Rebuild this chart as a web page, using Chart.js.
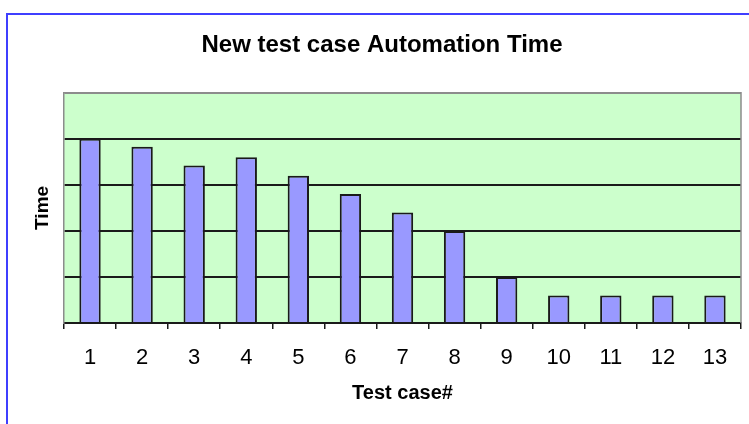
<!DOCTYPE html>
<html>
<head>
<meta charset="utf-8">
<script src="https://cdn.jsdelivr.net/npm/chart.js@4/dist/chart.umd.min.js"></script>
<style>
  html, body { margin: 0; padding: 0; background: #fff; }
  #wrap { width: 749px; height: 424px; }
</style>
</head>
<body>
<div id="wrap"><canvas id="myChart" width="749" height="424"></canvas></div>
<script>
// data
var categories = ['1', '2', '3', '4', '5', '6', '7', '8', '9', '10', '11', '12', '13'];
var times = [4, 3.83, 3.42, 3.6, 3.2, 2.8, 2.4, 2, 1, 0.6, 0.6, 0.6, 0.6];

var fontName = '"Liberation Sans", Arial, sans-serif';

// blue page frame + green plot area + gray plot border
var plotDecor = {
    id: 'plotDecor',
    beforeDraw: function (chart) {
        var c = chart.ctx, a = chart.chartArea;
        c.save();
        c.strokeStyle = '#3f3fff';
        c.lineWidth = 2;
        c.beginPath();
        c.moveTo(7, 430);
        c.lineTo(7, 14);
        c.lineTo(760, 14);
        c.stroke();
        c.fillStyle = '#ccffcc';
        c.fillRect(a.left, a.top, a.right - a.left, a.bottom - a.top);
        c.restore();
    },
    beforeDatasetsDraw: function (chart) {
        var c = chart.ctx, a = chart.chartArea;
        c.save();
        c.strokeStyle = '#8c8c8c';
        c.lineWidth = 1.5;
        c.beginPath();
        c.moveTo(a.left, a.top);
        c.lineTo(a.right, a.top);
        c.lineTo(a.right, a.bottom);
        c.stroke();
        c.restore();
    }
};

var ctx = document.getElementById('myChart').getContext('2d');
var chart = new Chart(ctx, {
    type: 'bar',
    data: {
        labels: categories,
        datasets: [{
            label: 'Time',
            data: times,
            backgroundColor: '#9999ff',
            borderColor: '#1a1a1a',
            borderWidth: 2,
            barPercentage: 0.41,
            categoryPercentage: 1
        }]
    },
    options: {
        responsive: false,
        animation: false,
        layout: { padding: { left: 23, right: 8, top: 0, bottom: 0 } },
        plugins: {
            legend: { display: false },
            tooltip: { enabled: false },
            title: {
                display: true,
                text: 'New test case Automation Time',
                color: '#000',
                font: { family: fontName, size: 24, weight: 'bold' },
                padding: { top: 31, bottom: 33 }
            }
        },
        scales: {
            x: {
                grid: {
                    drawOnChartArea: false,
                    drawTicks: true,
                    tickLength: 6,
                    color: '#1a1a1a',
                    lineWidth: 1.5
                },
                border: { color: '#1a1a1a', width: 2 },
                ticks: {
                    color: '#000',
                    padding: 16,
                    font: { family: fontName, size: 22 }
                },
                title: {
                    display: true,
                    text: 'Test case#',
                    color: '#000',
                    font: { family: fontName, size: 20, weight: 'bold' },
                    padding: { top: 0, bottom: 19 }
                },
                afterFit: function (scale) { scale.height = 101; }
            },
            y: {
                min: 0,
                max: 5,
                ticks: { display: false, stepSize: 1 },
                grid: {
                    drawTicks: false,
                    color: function (c) { return c.tick && c.tick.value === 5 ? '#8c8c8c' : '#1a1a1a'; },
                    lineWidth: 2
                },
                border: { color: '#8c8c8c', width: 1.5 },
                title: {
                    display: true,
                    text: 'Time',
                    color: '#000',
                    font: { family: fontName, size: 19, weight: 'bold' },
                    padding: { top: 8, bottom: 0 }
                },
                afterFit: function (scale) { scale.width = 41; }
            }
        }
    },
    plugins: [plotDecor]
});
</script>
</body>
</html>
